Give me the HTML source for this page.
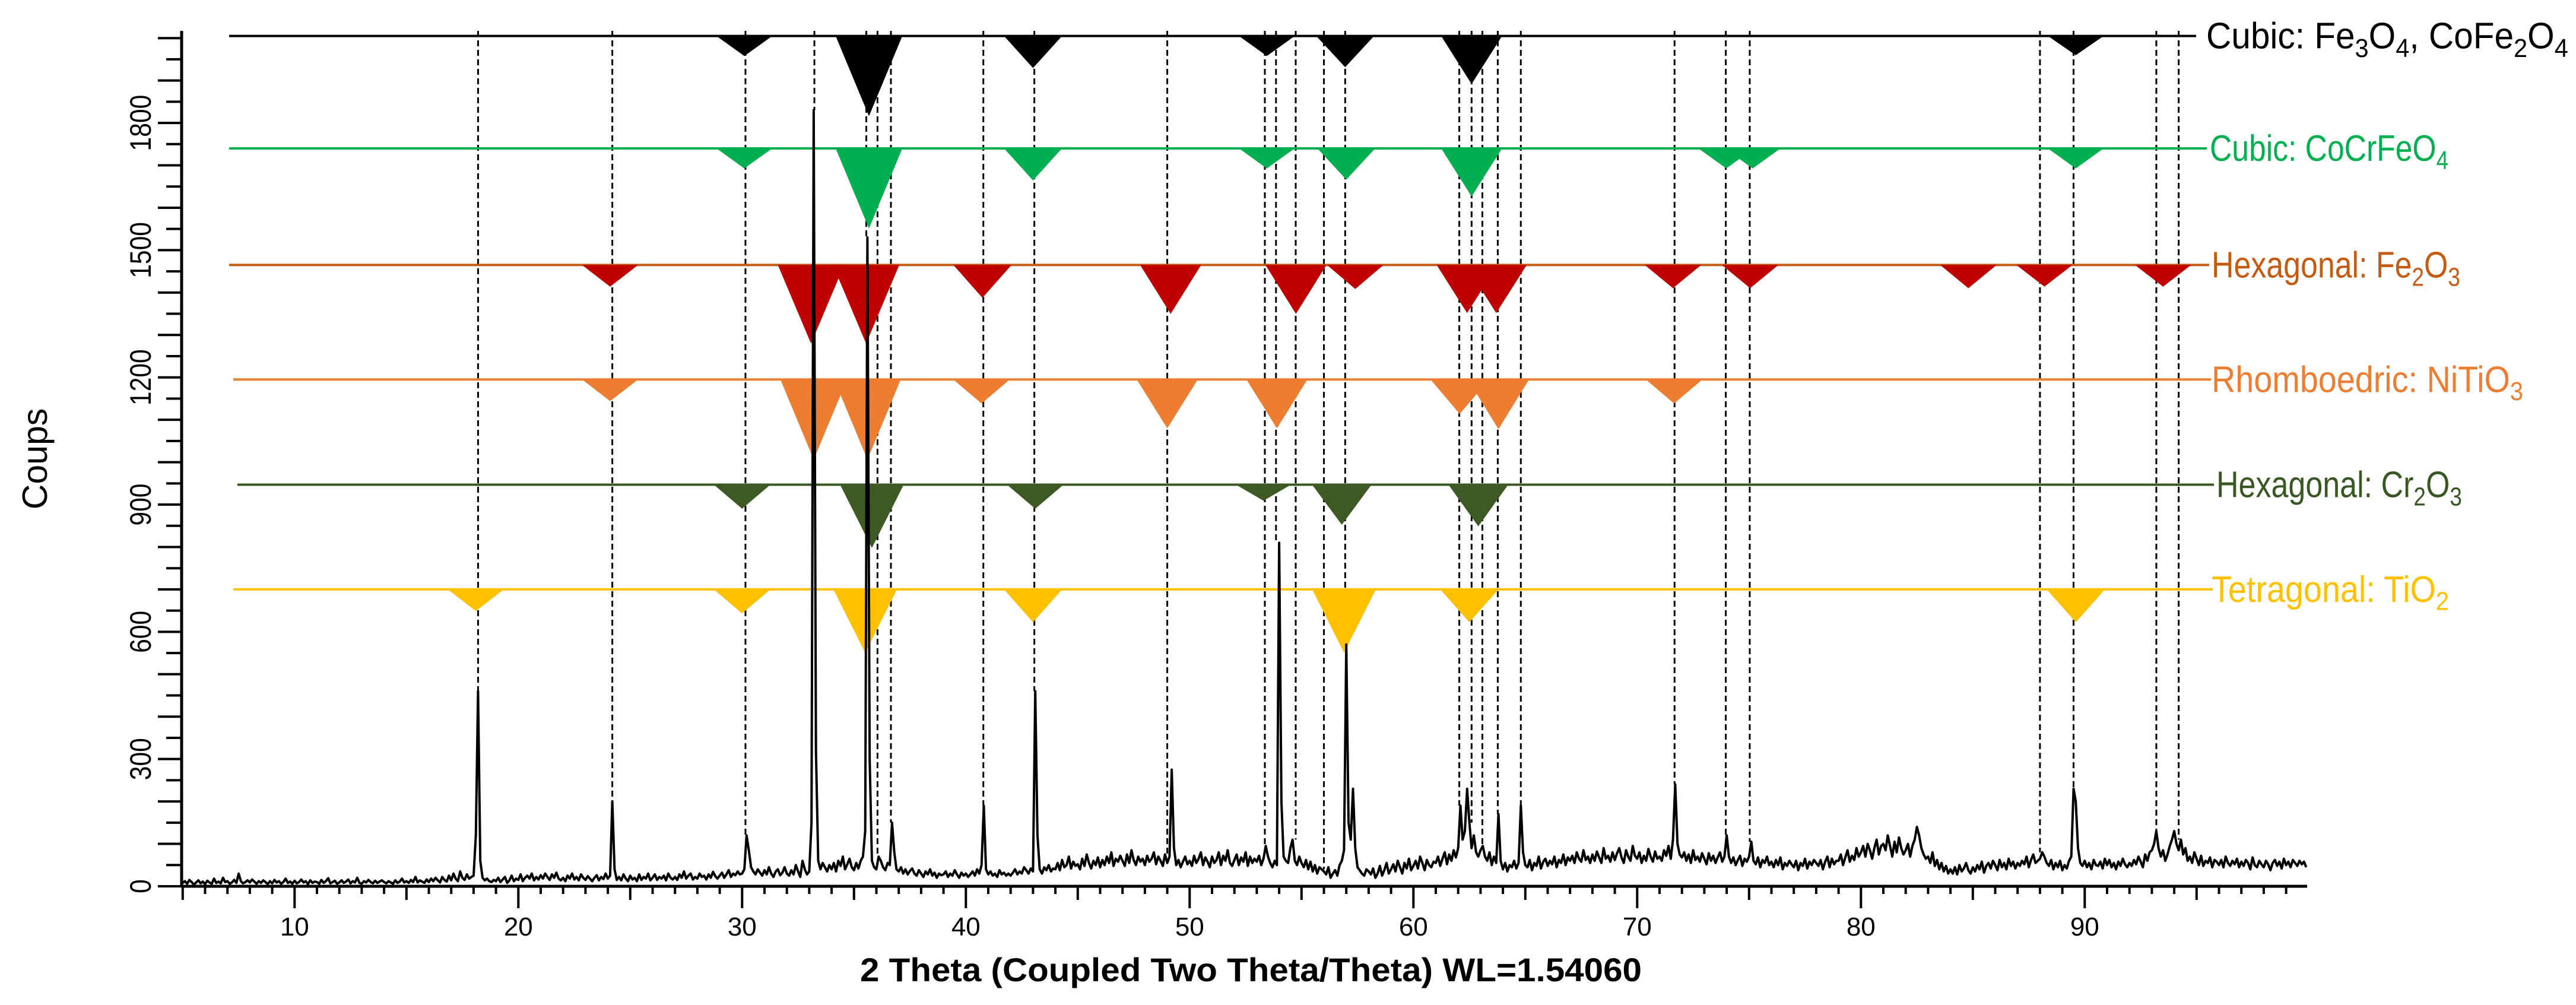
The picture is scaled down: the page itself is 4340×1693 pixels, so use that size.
<!DOCTYPE html>
<html><head><meta charset="utf-8"><title>XRD pattern</title>
<style>html,body{margin:0;padding:0;background:#fff}svg{display:block}text{font-family:"Liberation Sans",sans-serif}</style>
</head><body>
<svg id="chart" width="4340" height="1693" viewBox="0 0 4340 1693" xmlns="http://www.w3.org/2000/svg">
<g id="refs"></g>
<g id="curve"></g>
<g id="axes"></g>
<text x="1449" y="1653" font-size="56" font-weight="bold" textLength="1317" lengthAdjust="spacingAndGlyphs">2 Theta (Coupled Two Theta/Theta) WL=1.54060</text>
<text transform="translate(79,773) rotate(-90)" text-anchor="middle" font-size="59">Coups</text>
</svg>
<script>
// ---- data ----
const start2T = 5.0, step2T = 0.1;
const counts = [
8,12,6,15,10,4,9,14,7,11,
5,13,9,6,18,8,11,7,20,10,
12,6,9,15,8,30,12,7,10,14,
9,16,11,6,12,8,14,10,5,12,
7,15,9,12,6,10,18,8,11,6,
13,7,10,16,9,12,5,14,8,11,
10,6,15,8,12,19,7,10,13,6,
9,14,8,11,16,7,12,9,20,8,
6,12,9,15,10,7,13,8,11,14,
10,7,12,9,6,14,8,11,18,9,
12,8,15,10,22,9,14,11,8,16,
10,18,12,20,14,9,22,15,11,25,
14,30,18,12,35,20,15,28,18,22,
25,120,460,60,20,14,18,12,10,15,
12,20,10,16,22,8,14,25,12,18,
15,28,12,20,25,18,30,14,22,16,
26,18,30,22,15,28,20,32,18,14,
20,12,25,18,30,16,22,14,28,20,
15,24,18,12,20,26,14,22,17,30,
18,25,200,40,15,22,14,28,18,12,
25,16,20,12,28,15,22,18,30,14,
20,28,15,22,18,25,14,30,20,16,
22,15,28,20,35,18,25,30,16,22,
18,30,22,25,16,28,20,34,24,18,
25,32,20,28,38,22,30,26,35,28,
30,40,120,85,45,35,28,40,32,25,
38,28,45,30,22,35,40,26,32,45,
30,25,38,28,50,35,22,60,40,28,
35,150,1830,320,60,40,55,45,35,50,
40,55,35,60,48,70,40,52,65,45,
38,55,42,60,70,130,1530,300,60,45,
40,70,60,45,38,55,50,150,80,40,
35,45,30,40,28,36,42,30,25,38,
30,22,35,28,40,25,32,20,30,26,
28,35,22,30,25,38,28,20,32,25,
30,22,28,35,25,40,30,50,190,40,
28,35,25,30,22,38,28,32,25,30,
25,32,40,28,35,30,45,38,30,42,
35,460,120,40,30,45,38,50,35,42,
40,55,38,62,45,50,70,42,58,48,
52,40,65,48,75,55,42,60,50,68,
45,62,50,70,55,80,48,65,58,72,
60,48,75,55,85,62,50,70,58,65,
50,72,58,65,80,52,70,60,48,75,
55,70,275,90,50,62,45,58,70,52,
60,48,72,55,65,80,50,68,58,45,
70,55,62,80,50,72,60,85,55,48,
62,75,50,68,58,80,48,70,55,65,
58,72,50,65,95,70,55,45,60,50,
810,200,70,60,55,90,110,60,50,70,
55,45,62,40,58,35,50,30,45,40,
35,28,45,20,30,38,25,50,60,85,
570,150,110,230,90,45,38,30,25,40,
35,28,42,20,30,48,25,38,55,30,
40,52,35,60,45,30,55,42,65,38,
48,60,42,70,55,38,62,50,45,58,
55,70,48,65,80,52,75,60,85,68,
90,190,110,130,230,150,90,120,80,70,
85,95,70,60,80,50,70,55,170,60,
40,55,35,50,45,60,42,55,190,80,
50,45,62,38,55,48,70,42,58,65,
48,60,52,70,45,62,55,75,50,68,
60,72,55,80,65,58,85,62,70,55,
75,60,82,68,55,90,65,72,58,80,
62,78,90,68,55,85,70,60,95,72,
65,80,55,72,60,88,70,58,82,65,
70,60,85,72,95,65,110,240,100,75,
68,80,60,75,55,85,62,70,58,78,
65,52,78,60,72,55,68,80,58,70,
120,70,55,68,50,62,72,48,65,58,
70,105,60,52,68,45,62,55,70,50,
58,45,62,50,68,40,55,48,60,52,
45,60,38,55,48,65,42,58,50,62,
55,48,62,40,58,70,45,65,52,60,
60,75,50,68,85,58,72,62,90,70,
80,95,70,100,85,65,90,110,75,95,
100,85,120,95,70,105,80,115,90,75,
85,100,70,95,110,140,120,90,75,65,
70,55,80,48,62,40,55,35,48,30,
40,30,45,28,50,35,42,55,38,30,
45,35,50,40,58,32,48,55,42,60,
50,38,62,45,55,40,65,48,58,42,
55,48,60,52,70,45,62,75,55,60,
65,80,70,55,48,62,40,55,45,60,
38,50,42,60,70,230,200,90,55,48,
60,45,55,40,62,50,48,58,42,65,
50,62,45,55,40,58,48,65,52,45,
55,48,62,52,70,58,45,75,60,80,
85,100,130,90,70,85,60,75,95,110,
130,100,85,110,75,90,60,70,55,80,
65,50,72,48,60,55,68,45,62,58,
50,62,45,70,55,48,60,52,65,45,
58,48,62,55,40,68,50,45,60,52,
45,60,52,38,55,62,48,58,42,65,
50,58,45,62,55,48,60,52,58,45
];
const xTickLabels = [10,20,30,40,50,60,70,80,90];
const yTickLabels = [0,300,600,900,1200,1500,1800];
const dashedPositions = [18.2,24.2,30.15,33.23,35.55,36.05,36.65,40.78,43.06,49.0,53.36,53.86,54.74,56.0,56.95,62.05,62.6,63.08,63.77,64.8,71.67,73.96,75.03,88.0,89.5,93.2,94.2];

const phaseNames = ["Cubic: Fe3O4, CoFe2O4","Cubic: CoCrFeO4","Hexagonal: Fe2O3","Rhomboedric: NiTiO3","Hexagonal: Cr2O3","Tetragonal: TiO2"];
const phaseLevels = [2005,1740,1465,1195,947,700];
const fe3o4Pos = [30.1,35.67,43.0,53.45,56.95,62.6,89.6];
const fe3o4Int = [25,100,40,25,39,60,24];
const cocrPos = [30.1,35.67,43.0,53.45,57.0,62.6,73.98,75.16,89.6];
const cocrInt = [25,100,40,25,39,60,25,25,25];
const fe2o3Pos = [24.1,33.08,35.54,40.74,49.15,54.75,57.4,62.4,63.7,71.6,75.05,84.8,88.2,93.5];
const fe2o3Int = [27,98,98,41,61,61,30,60,60,29,29,29,27,27];
const nitio3Pos = [24.1,33.2,35.6,40.7,49.0,53.9,62.07,63.8,71.65];
const nitio3Int = [27,100,100,30,61,61,43,62,30];
const cr2o3Pos = [30.0,35.8,43.1,53.3,56.8,62.9];
const cr2o3Int = [30,79,30,20,50,52];
const tio2Pos = [18.1,30.0,35.5,43.0,56.9,62.5,89.6];
const tio2Int = [27,30,79,41,79,41,41];

// ---- styling / scales ----
const NS = "http://www.w3.org/2000/svg";
const X0 = 496.3, XU = 37.7, Y0 = 1493, YU = 0.7144;
const xs = t => X0 + (t - 10) * XU;
const ys = c => Y0 - c * YU;
const phasePos = [fe3o4Pos,cocrPos,fe2o3Pos,nitio3Pos,cr2o3Pos,tio2Pos];
const phaseInt = [fe3o4Int,cocrInt,fe2o3Int,nitio3Int,cr2o3Int,tio2Int];
const lineColors = ["#000000","#00B050","#C55A11","#ED7D31","#385723","#FFC000"];
const triColors = ["#000000","#00B050","#C00000","#ED7D31","#3D5A25","#FFC000"];
const textColors = ["#000000","#00B050","#C55A11","#ED7D31","#385723","#FFC000"];
const lineStart = [386,386,386,393,400,393];
const lineEnd = [3700,3718,3722,3725,3730,3728];
const labelX = [3717,3723,3726,3726,3734,3726];
const labelLen = [610,402,419,525,414,400];
function mk(tag, attrs, parent){const e=document.createElementNS(NS,tag);for(const k in attrs)e.setAttribute(k,attrs[k]);parent.appendChild(e);return e;}
const refs=document.getElementById('refs'), curveG=document.getElementById('curve'), axes=document.getElementById('axes');

function countAt(t){let best=0;for(let i=0;i<counts.length;i++){const tt=start2T+i*step2T;if(Math.abs(tt-t)<=0.16&&counts[i]>best)best=counts[i];}return best;}

// dashed guide lines
dashedPositions.forEach(p=>{
  const l=mk('line',{x1:xs(p),x2:xs(p),y1:52,y2:ys(countAt(p)),stroke:'#000','stroke-width':3,'stroke-dasharray':'10 6'},refs);
  
  
});

// phase lines, markers and labels
phaseNames.forEach((name,k)=>{
  const yl=ys(phaseLevels[k]);
  const ln=mk('line',{x1:lineStart[k],x2:lineEnd[k],y1:yl,y2:yl,stroke:lineColors[k],'stroke-width':4},refs);
  
  
  phasePos[k].forEach((p,i)=>{
    const h=phaseInt[k][i]*1.35, w=88+0.18*h, cx=xs(p);
    const tri=mk('polygon',{points:`${cx-w/2},${yl} ${cx+w/2},${yl} ${cx},${yl+h}`,fill:triColors[k]},refs);
    
    
  });
  const g=mk('g',{},refs);
  
  
  const tx=mk('text',{x:labelX[k],y:yl+21,'font-size':62,fill:textColors[k]},g);
  name.split(/(\d)/).forEach(s=>{
    if(!s)return;
    const ts=document.createElementNS(NS,'tspan');
    if(/\d/.test(s)){ts.setAttribute('font-size','44');ts.setAttribute('baseline-shift','-14');}
    ts.textContent=s;tx.appendChild(ts);
  });
  const bw=tx.getBBox().width;
  if(bw>0){
    const sc=labelLen[k]/bw;
    g.setAttribute('transform',`translate(${labelX[k]},0) scale(${sc},1) translate(${-labelX[k]},0)`);
  }
});

// curve
let d='';
counts.forEach((c,i)=>{d+=(i?'L':'M')+xs(start2T+i*step2T).toFixed(1)+','+ys(c).toFixed(1);});
const path=mk('path',{d:d,fill:'none',stroke:'#000','stroke-width':4,'stroke-linejoin':'round'},curveG);



// axes
const xa=mk('line',{x1:305,x2:3887,y1:Y0,y2:Y0,stroke:'#000','stroke-width':5},axes);


const ya=mk('line',{x1:306,x2:306,y1:52,y2:Y0+2,stroke:'#000','stroke-width':5},axes);


for(let t=5;t<=99;t++){
  const len=t%10===0?37:(t%5===0?23:13);
  const tk=mk('line',{x1:xs(t),x2:xs(t),y1:Y0,y2:Y0+len,stroke:'#000','stroke-width':4},axes);
  
  
}
xTickLabels.forEach(v=>{
  const tl=mk('text',{x:xs(v),y:1576,'text-anchor':'middle','font-size':44},axes);
  
  
  tl.textContent=v;
});
for(let c=0;c<=2000;c+=50){
  const len=c%100===0?40:26;
  const tk=mk('line',{x1:306-len,x2:306,y1:ys(c),y2:ys(c),stroke:'#000','stroke-width':4},axes);
  
  
}
yTickLabels.forEach(v=>{
  const s=String(v);
  const tl=mk('text',{transform:`translate(254,${ys(v)}) rotate(-90)`,'text-anchor':'middle','font-size':50,textLength:s.length*23.7,lengthAdjust:'spacingAndGlyphs'},axes);
  
  
  tl.textContent=s;
});
</script>
</body></html>
